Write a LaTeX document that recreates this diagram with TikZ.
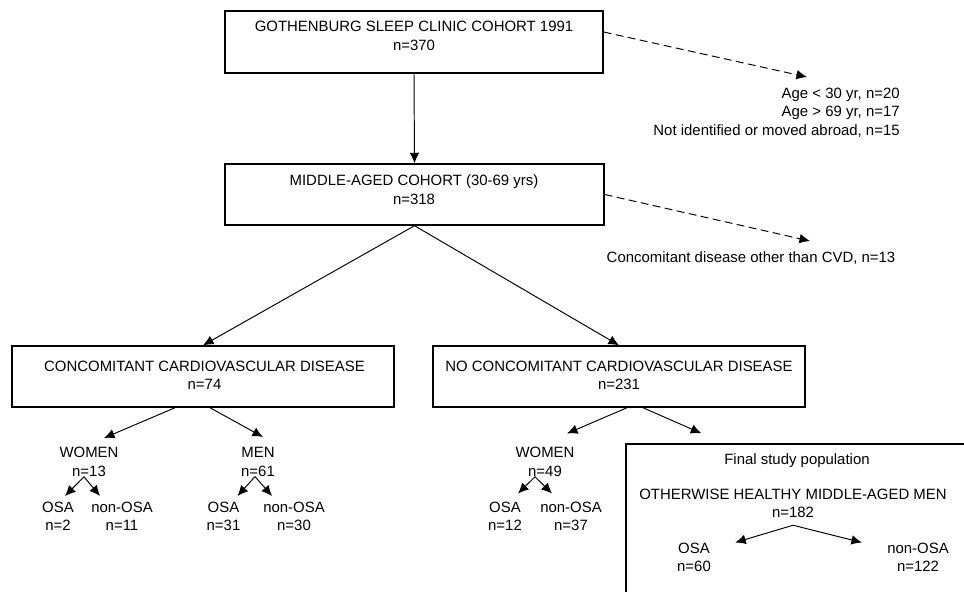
\documentclass[tikz,border=0pt]{standalone}
\usepackage{fontspec}
\setmainfont{Liberation Sans}
\usetikzlibrary{arrows.meta}
\tikzset{
  box/.style={draw,line width=0.8pt,inner sep=0pt},
  txt/.style={align=center,inner sep=0pt,font=\fontsize{8.5}{10.5}\selectfont},
  arr/.style={line width=0.55pt,-{Latex[length=6pt,width=5.5pt]}},
  darr/.style={arr,dash pattern=on 4.5pt off 2.5pt}
}

\begin{document}
\begin{tikzpicture}
		\useasboundingbox (0,0) rectangle (19.28,-11.82);
		% boxes
		\node[box,minimum width=7.56cm,minimum height=1.24cm] (gscc) at (8.28,-0.84) {};
		\node[box,minimum width=7.58cm,minimum height=1.22cm] (midcoh) at (8.29,-3.89) {};
		\node[box,minimum width=7.64cm,minimum height=1.22cm] (cvd) at (4.06,-7.53) {};
		\node[box,minimum width=7.44cm,minimum height=1.22cm] (nocvd) at (12.38,-7.53) {};
		\node[box,minimum width=6.98cm,minimum height=3.12cm] (final) at (16.01,-10.44) {};
		% texts
		\node[txt,anchor=north] (gsccT) at (8.28,-0.42) {GOTHENBURG SLEEP CLINIC COHORT 1991\\n=370};
		\node[txt,anchor=north] (midcohT) at (8.28,-3.49) {MIDDLE-AGED COHORT (30-69 yrs)\\n=318};
		\node[txt,align=right,anchor=north east] (excl1) at (18.0,-1.75) {Age < 30 yr, n=20\\Age > 69 yr, n=17\\Not identified or moved abroad, n=15};
		\node[txt,anchor=north] (excl2) at (15.02,-5.03) {Concomitant disease other than CVD, n=13};
		\node[txt,anchor=north] (cvdT) at (4.09,-7.21) {CONCOMITANT CARDIOVASCULAR DISEASE\\n=74};
		\node[txt,anchor=north] (nocvdT) at (12.38,-7.21) {NO CONCOMITANT CARDIOVASCULAR DISEASE\\n=231};
		\node[txt,anchor=north] (cvdW) at (1.78,-8.94) {WOMEN\\n=13};
		\node[txt,anchor=north] (cvdM) at (5.16,-8.94) {MEN\\n=61};
		\node[txt,anchor=north] (ncW) at (10.9,-8.94) {WOMEN\\n=49};
		\node[txt,anchor=north] (cvdWosa) at (1.16,-10.03) {OSA\\n=2};
		\node[txt,anchor=north] (cvdWnon) at (2.44,-10.03) {non-OSA\\n=11};
		\node[txt,anchor=north] (cvdMosa) at (4.47,-10.03) {OSA\\n=31};
		\node[txt,anchor=north] (cvdMnon) at (5.88,-10.03) {non-OSA\\n=30};
		\node[txt,anchor=north] (ncWosa) at (10.1,-10.03) {OSA\\n=12};
		\node[txt,anchor=north] (ncWnon) at (11.42,-10.03) {non-OSA\\n=37};
		\node[txt,anchor=north] (finT) at (15.94,-9.07) {Final study population};
		\node[txt,anchor=north] (healthy) at (15.86,-9.77) {OTHERWISE HEALTHY MIDDLE-AGED MEN\\n=182};
		\node[txt,anchor=north] (finOSA) at (13.88,-10.85) {OSA\\n=60};
		\node[txt,anchor=north] (finNon) at (18.36,-10.85) {non-OSA\\n=122};
		% excluded
		\coordinate (ex1tip) at (16.14,-1.54);
		\coordinate (ex2tip) at (16.2,-4.82);
		\draw[darr] ([yshift=0.2cm]gscc.east) -- (ex1tip);
		\draw[darr] (midcoh.east) -- (ex2tip);
		% flow
		\draw[arr] (gscc.south) -- (midcoh.north);
		\draw[arr] (midcoh.south) -- (cvd.north);
		\draw[arr] (midcoh.south) -- (nocvd.north);
		\draw[arr] ([xshift=-0.56cm]cvd.south) -- ([xshift=0.3cm,yshift=0.18cm]cvdW.north);
		\draw[arr] ([xshift=0.14cm]cvd.south) -- ([xshift=0.1cm,yshift=0.2cm]cvdM.north);
		\draw[arr] ([xshift=-0.1cm]cvdW.south) -- ([xshift=0.14cm,yshift=0.11cm]cvdWosa.north);
		\draw[arr] ([xshift=-0.1cm]cvdW.south) -- ([xshift=-0.44cm,yshift=0.11cm]cvdWnon.north);
		\draw[arr] ([xshift=-0.06cm]cvdM.south) -- ([xshift=0.28cm,yshift=0.11cm]cvdMosa.north);
		\draw[arr] ([xshift=-0.06cm]cvdM.south) -- ([xshift=-0.44cm,yshift=0.11cm]cvdMnon.north);
		\draw[arr] ([xshift=0.16cm]nocvd.south) -- ([xshift=0.44cm,yshift=0.27cm]ncW.north);
		\draw[arr] ([xshift=0.48cm]nocvd.south) -- ([xshift=1.52cm,yshift=0.2cm]final.north west);
		\draw[arr] ([xshift=-0.2cm]ncW.south) -- ([xshift=0.26cm,yshift=0.16cm]ncWosa.north);
		\draw[arr] ([xshift=-0.2cm]ncW.south) -- ([xshift=-0.38cm,yshift=0.16cm]ncWnon.north);
		\draw[arr] ([yshift=-0.14cm]healthy.south) -- ([xshift=0.48cm]finOSA.north east);
		\draw[arr] ([yshift=-0.14cm]healthy.south) -- ([xshift=-0.5cm]finNon.north west);
\end{tikzpicture}
\end{document}
